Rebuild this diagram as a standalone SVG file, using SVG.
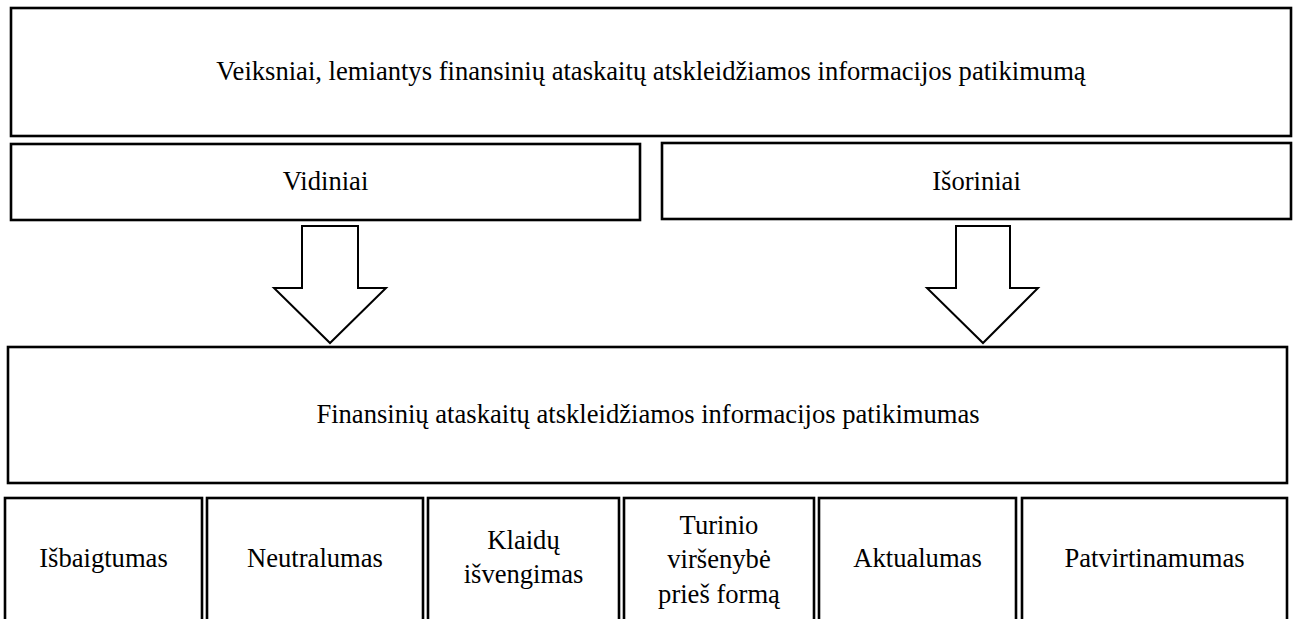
<svg xmlns="http://www.w3.org/2000/svg" width="1297" height="619" viewBox="0 0 1297 619">
  <style>
    .box { fill: #fff; stroke: #000; stroke-width: 2.6; }
    .arrow { fill: #fff; stroke: #000; stroke-width: 2; stroke-linejoin: miter; }
    text { font-family: "Liberation Serif", "Times New Roman", serif; font-size: 26.6px; fill: #000; text-anchor: middle; }
  </style>
  <rect width="1297" height="619" fill="#fff"/>

  <g id="factors">
    <rect class="box" x="11" y="8" width="1280" height="128"/>
    <text x="651" y="80">Veiksniai, lemiantys finansinių ataskaitų atskleidžiamos informacijos patikimumą</text>
  </g>

  <g id="internal">
    <rect class="box" x="11" y="144" width="629" height="76"/>
    <text x="325.5" y="190">Vidiniai</text>
  </g>

  <g id="external">
    <rect class="box" x="662" y="143" width="629" height="76"/>
    <text x="976.5" y="190">Išoriniai</text>
  </g>

  <g id="connectors">
    <polygon class="arrow" points="302,226 358,226 358,288 386,288 330,343 274,288 302,288"/>
    <polygon class="arrow" points="956,226 1010,226 1010,288 1038,288 983,343 927,288 956,288"/>
  </g>

  <g id="reliability">
    <rect class="box" x="8" y="347" width="1279" height="136"/>
    <text x="648" y="423">Finansinių ataskaitų atskleidžiamos informacijos patikimumas</text>
  </g>

  <g id="completeness">
    <rect class="box" x="5" y="498" width="197" height="140"/>
    <text x="103.5" y="567">Išbaigtumas</text>
  </g>

  <g id="neutrality">
    <rect class="box" x="207" y="498" width="216" height="140"/>
    <text x="315" y="567">Neutralumas</text>
  </g>

  <g id="error-free">
    <rect class="box" x="428" y="498" width="191" height="140"/>
    <text x="523.5" y="549">Klaidų</text>
    <text x="523.5" y="583">išvengimas</text>
  </g>

  <g id="substance-over-form">
    <rect class="box" x="624" y="498" width="190" height="140"/>
    <text x="719" y="534">Turinio</text>
    <text x="719" y="568">viršenybė</text>
    <text x="719" y="603">prieš formą</text>
  </g>

  <g id="relevance">
    <rect class="box" x="819" y="498" width="197" height="140"/>
    <text x="917.5" y="567">Aktualumas</text>
  </g>

  <g id="verifiability">
    <rect class="box" x="1022" y="498" width="265" height="140"/>
    <text x="1154.5" y="567">Patvirtinamumas</text>
  </g>
</svg>
